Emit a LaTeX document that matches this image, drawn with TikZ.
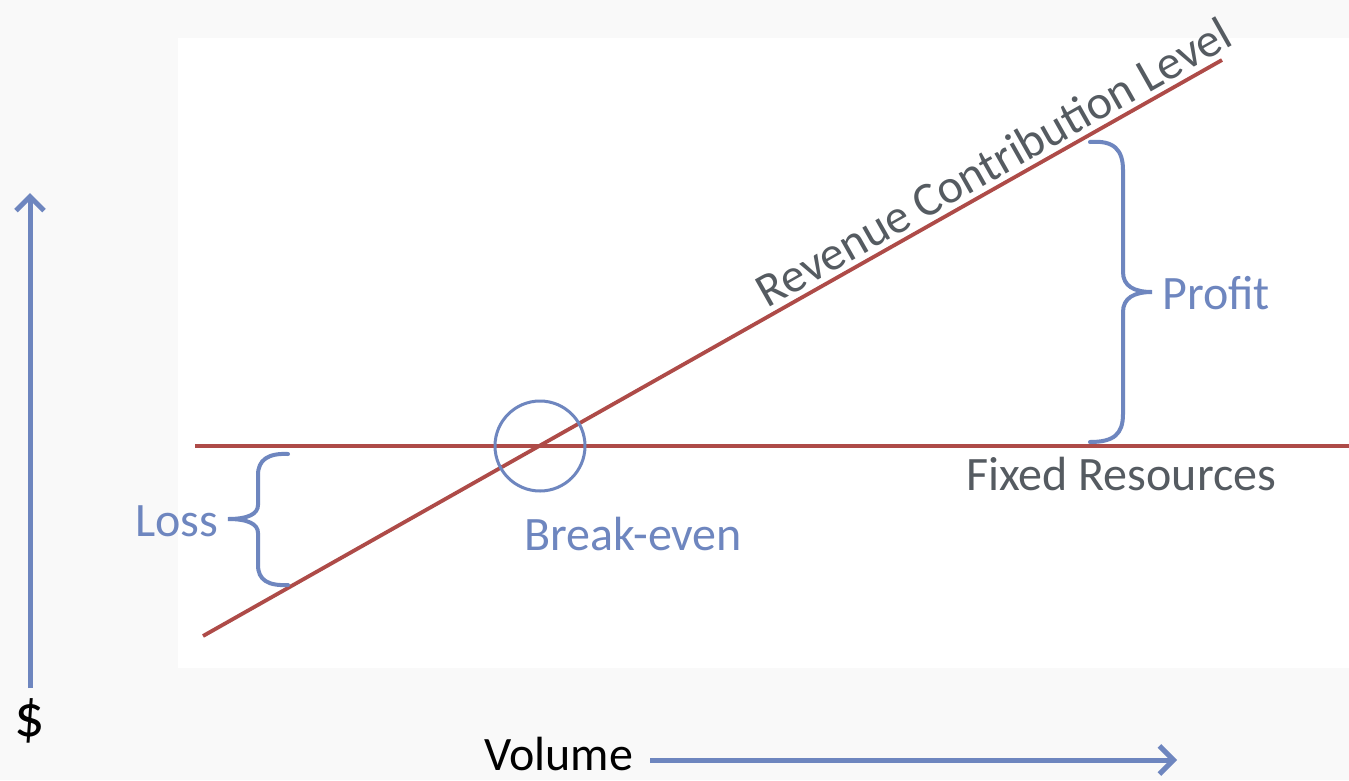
\documentclass[tikz,border=0pt]{standalone}
\usepackage{fontspec}
\setmainfont{Carlito}
\usetikzlibrary{arrows.meta}
\definecolor{bluel}{HTML}{6E86BF}
\definecolor{redl}{HTML}{AE4B48}
\definecolor{grayt}{HTML}{555B61}
\definecolor{bgedge}{HTML}{F9F9F9}
\tikzset{
  big/.style={font=\fontsize{48}{50}\selectfont, inner sep=0pt},
  bluetext/.style={big, text=bluel},
  graytext/.style={big, text=grayt},
  axisarrow/.style={draw=bluel, line width=5pt, -{Straight Barb[length=14pt,width=28pt]}},
  costline/.style={draw=redl, line width=3.8pt},
  bracestyle/.style={draw=bluel, line width=4pt, line cap=round},
}
\begin{document}
\begin{tikzpicture}[x=1pt,y=-1pt]
\useasboundingbox (0,0) rectangle (1349,780);
\fill[bgedge] (0,0) rectangle (1349,780);
\fill[white] (178,38) rectangle (1349,668);

% axes
\node[font=\fontsize{60}{62}\selectfont, inner sep=0pt, anchor=base] (dollar) at (30,736) {\$};
\coordinate (ytop) at (30,193);
\draw[axisarrow] (30,688) -- (ytop);
\node[big, anchor=base west] (volume) at (484,770) {Volume};
\coordinate (xend) at (1177,760);
\draw[axisarrow] (650,760) -- (xend);

% lines
\coordinate (fixA) at (195,446);
\coordinate (fixB) at (1349,446);
\coordinate (revA) at (203,636);
\coordinate (revB) at (1222,60);
\draw[costline] (fixA) -- (fixB);
\draw[costline] (revA) -- node[pos=0.787, sloped, above=5pt, graytext] (revlabel) {Revenue Contribution Level} (revB);

% break-even
\node[draw=bluel, line width=3pt, circle, minimum size=90pt, inner sep=0pt] (be) at (540,446) {};
\node[bluetext, anchor=base west] (belabel) at (524,550) {Break-even};

\node[graytext, anchor=base west] (fixlabel) at (966,490) {Fixed Resources};

% profit brace
\draw[bracestyle] (1090,142) .. controls (1114,140) and (1123,150) .. (1123,170)
  -- (1123,272) .. controls (1123,286) and (1134,292) .. (1152,292)
  .. controls (1134,292) and (1123,298) .. (1123,312)
  -- (1123,414) .. controls (1123,434) and (1114,442) .. (1090,442);
\node[bluetext, anchor=base west] (profit) at (1162,309) {Profit};

% loss brace
\draw[bracestyle] (288,454) .. controls (268,453) and (258,460) .. (258,475)
  -- (258,505) .. controls (258,514) and (248,519) .. (228,519)
  .. controls (248,519) and (258,524) .. (258,533)
  -- (258,565) .. controls (258,580) and (268,586) .. (288,585);
\node[bluetext, anchor=base west] (loss) at (135,536) {Loss};
\end{tikzpicture}
\end{document}
